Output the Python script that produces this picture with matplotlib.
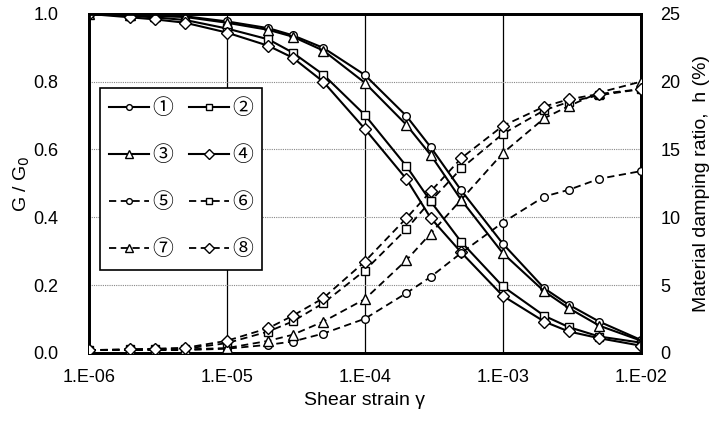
import numpy as np
import matplotlib
matplotlib.use("Agg")
import matplotlib.pyplot as plt

plt.rcParams['font.family'] = ['Liberation Sans', 'DejaVu Sans']

# shear strain (same for all curves)
strain = [1e-6, 2e-6, 3e-6, 5e-6, 1e-5, 2e-5, 3e-5, 5e-5, 1e-4,
          2e-4, 3e-4, 5e-4, 1e-3, 2e-3, 3e-3, 5e-3, 1e-2]

# G/G0 curves (left axis)
g1 = [1.0, 0.997, 0.995, 0.993, 0.978, 0.958, 0.937, 0.900, 0.820,
      0.699, 0.607, 0.479, 0.322, 0.190, 0.142, 0.092, 0.038]
g2 = [1.0, 0.994, 0.990, 0.982, 0.957, 0.925, 0.886, 0.821, 0.702,
      0.551, 0.447, 0.327, 0.196, 0.109, 0.076, 0.048, 0.030]
g3 = [1.0, 0.996, 0.994, 0.991, 0.974, 0.953, 0.933, 0.892, 0.797,
      0.673, 0.584, 0.451, 0.294, 0.181, 0.132, 0.080, 0.036]
g4 = [1.0, 0.990, 0.984, 0.974, 0.945, 0.906, 0.871, 0.800, 0.661,
      0.513, 0.398, 0.296, 0.168, 0.092, 0.063, 0.043, 0.021]

# damping ratio h (%) curves (right axis)
h5 = [0.2, 0.2, 0.2, 0.2, 0.3, 0.59, 0.83, 1.42, 2.51,
      4.40, 5.60, 7.37, 9.61, 11.53, 12.02, 12.84, 13.4]
h6 = [0.2, 0.25, 0.28, 0.3, 0.71, 1.57, 2.31, 3.66, 6.07,
      9.12, 11.2, 13.6, 16.15, 17.9, 18.5, 19.0, 19.45]
h7 = [0.2, 0.22, 0.24, 0.25, 0.35, 0.88, 1.33, 2.30, 3.96,
      6.83, 8.8, 11.3, 14.73, 17.31, 18.2, 19.2, 20.0]
h8 = [0.2, 0.25, 0.3, 0.37, 0.885, 1.82, 2.73, 4.03, 6.73,
      9.93, 11.9, 14.36, 16.74, 18.17, 18.7, 19.1, 19.45]

labels = ['①', '②', '③', '④', '⑤', '⑥', '⑦', '⑧']
markers = ['o', 's', '^', 'D', 'o', 's', '^', 'D']
msizes = {'o': 5.5, 's': 5.5, '^': 7.5, 'D': 6.5}

fig = plt.figure(figsize=(7.16, 4.22), dpi=100)
ax = fig.add_axes([0.124, 0.164, 0.771, 0.803])
ax2 = ax.twinx()

handles = {}
for i, g in enumerate([g1, g2, g3, g4]):
    m = markers[i]
    ln, = ax.plot(strain, g, color='black', lw=1.5, marker=m, ms=msizes[m],
                  mfc='white', mec='black', mew=1.0, zorder=5)
    handles[i] = ln
for j, h in enumerate([h5, h6, h7, h8]):
    i = j + 4
    m = markers[i]
    ln, = ax2.plot(strain, h, color='black', lw=1.3, ls=(0, (4, 2.5)), marker=m,
                   ms=msizes[m], mfc='white', mec='black', mew=1.0, zorder=5)
    handles[i] = ln

ax.set_xscale('log')
ax.set_xlim(1e-6, 1e-2)
ax.set_ylim(0, 1.0)
ax2.set_ylim(0, 25)

ax.set_xticks([1e-6, 1e-5, 1e-4, 1e-3, 1e-2])
ax.set_xticklabels(['1.E-06', '1.E-05', '1.E-04', '1.E-03', '1.E-02'])
ax.xaxis.set_minor_locator(matplotlib.ticker.NullLocator())
ax.set_yticks(np.arange(0, 1.01, 0.2))
ax.set_yticklabels(['%.1f' % v for v in np.arange(0, 1.01, 0.2)])
ax2.set_yticks(range(0, 26, 5))

ax.tick_params(axis='x', length=0, labelsize=13, pad=12)
ax.tick_params(axis='y', length=0, labelsize=13, pad=22)
ax2.tick_params(length=0, labelsize=13, pad=14)

# grid: solid vertical decades, dotted horizontal lines
ax.grid(True, axis='x', color='black', lw=0.9, ls='-')
ax.grid(True, axis='y', color='#888888', lw=0.8, ls=(0, (1, 1)))
ax.set_axisbelow(True)

for a in (ax, ax2):
    for s in a.spines.values():
        s.set_linewidth(2.0)

ax.set_xlabel('Shear strain γ', fontsize=14, labelpad=4)
ax.set_ylabel('G / G$_0$', fontsize=14, labelpad=1)
ax2.set_ylabel('Material damping ratio,  h (%)', fontsize=14, labelpad=9)

order = [0, 2, 4, 6, 1, 3, 5, 7]
leg = ax2.legend([handles[k] for k in order], [labels[k] for k in order],
                 ncol=2, loc='upper left', bbox_to_anchor=(0.02, 0.782),
                 borderaxespad=0,
                 prop={'family': ['Noto Sans CJK JP', 'DejaVu Sans'], 'size': 15},
                 frameon=True, fancybox=False, edgecolor='black',
                 framealpha=1, handlelength=1.9, handletextpad=0.15,
                 labelspacing=1.2, columnspacing=0.8, borderpad=0.45,
                 markerscale=0.75)
leg.get_frame().set_linewidth(1.2)

fig.savefig('out.png', dpi=100)
